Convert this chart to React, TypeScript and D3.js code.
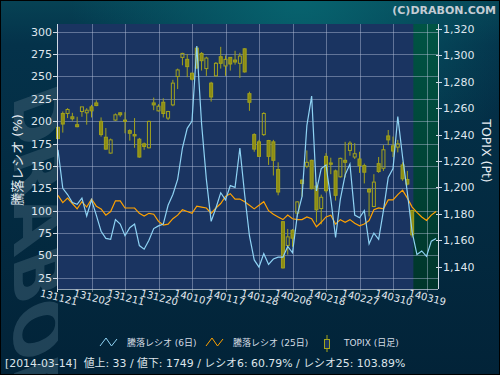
import React from 'react';
import * as d3 from 'd3';

// x-axis labels, one every 7 trading days
const dateLabels = ['131121', '131202', '131211', '131220', '140107', '140117', '140128', '140206', '140218', '140227', '140310', '140319'];

// 騰落レシオ (6日)
const ratio6 = [
  168, 125, 118, 109, 107, 114, 94, 112, 95, 77,
  69, 68, 90, 85, 72, 81, 85, 61, 57, 67,
  80, 83, 85, 106, 118, 135, 170, 192, 200, 284,
  197, 135, 88, 103, 120, 112, 128, 126, 170, 118,
  72, 45, 37, 52, 40, 46, 48, 48, 60, 53,
  95, 116, 195, 228, 122, 147, 151, 113, 70, 113,
  140, 152, 95, 92, 100, 63, 75, 68, 100, 137,
  147, 205, 160, 120, 76, 51, 55, 49, 66, 69,
];

// 騰落レシオ (25日)
const ratio25 = [
  117, 109, 114, 108, 102, 110, 104, 113, 105, 102,
  95, 99, 111, 111, 103, 103, 103, 97, 94, 97,
  96, 88, 84, 85, 91, 95, 101, 99, 97, 105,
  104, 103, 97, 103, 108, 116, 119, 113, 113, 110,
  106, 102, 106, 110, 100, 96, 93, 90, 95, 91,
  90, 90, 93, 91, 82, 87, 93, 95, 85, 90,
  87, 90, 86, 83, 85, 89, 101, 103, 102, 112,
  112, 118, 123, 114, 104, 98, 93, 89, 95, 99,
];

// TOPIX daily candles
const opens = [
  1245.5, 1256, 1256, 1253.5, 1247.5, 1257.5, 1256.5, 1261, 1264, 1250,
  1238, 1226, 1251, 1256.5, 1251, 1243, 1240, 1236.5, 1233, 1230,
  1264, 1258, 1264.5, 1252.5, 1262.5, 1284, 1298.5, 1297, 1286.5, 1305.5,
  1301.5, 1290, 1279, 1284.5, 1299, 1292, 1298.5, 1296.5, 1294, 1305,
  1271, 1240, 1234.5, 1240, 1235.5, 1234.5, 1213.5, 1174, 1156, 1167.5,
  1180.5, 1205.5, 1216, 1220.5, 1201, 1184, 1223.5, 1218.5, 1212.5, 1208,
  1220.5, 1228, 1223, 1221.5, 1216.5, 1198.5, 1185.5, 1218, 1214.5, 1239,
  1231.5, 1230.5, 1217, 1206, 1182.5,
];
const closes = [
  1237, 1248, 1259, 1252, 1246, 1261, 1258.5, 1258, 1262, 1240,
  1229, 1236, 1255, 1255, 1250, 1241, 1239, 1223, 1231, 1250,
  1262.5, 1261.5, 1256, 1257.5, 1279, 1289, 1301.5, 1291.5, 1282, 1290.5,
  1296, 1298, 1268.5, 1294, 1294, 1297, 1293.5, 1295, 1299.5, 1287.5,
  1264.5, 1229, 1223.5, 1256, 1223.5, 1220.5, 1196.5, 1139, 1162.5, 1161.5,
  1189, 1203, 1219, 1199, 1183, 1192.5, 1197.5, 1217.5, 1194, 1222,
  1219, 1233.5, 1225.5, 1216.5, 1211.5, 1196.5, 1204, 1212, 1228.5, 1236,
  1227.5, 1233, 1206.5, 1202.5, 1164,
];
const highs = [
  1246, 1257.5, 1260, 1256.5, 1253.5, 1261, 1260, 1262.5, 1266, 1253,
  1245, 1237, 1256, 1257, 1257, 1244, 1252.5, 1237.5, 1234, 1250.5,
  1268, 1263, 1267.5, 1258, 1281.5, 1290, 1302, 1301, 1287, 1306.5,
  1302.5, 1299, 1280, 1295, 1306.5, 1300, 1298.5, 1303.5, 1302, 1305.5,
  1272.5, 1241, 1236, 1257, 1236, 1236, 1219, 1174.5, 1168.5, 1168.5,
  1189.5, 1206, 1228, 1221, 1204, 1194.5, 1226, 1222.5, 1213.5, 1222.5,
  1234.5, 1235, 1233.5, 1227, 1218, 1199.5, 1210, 1223, 1232, 1243.5,
  1238.5, 1236, 1219, 1212.5, 1183,
];
const lows = [
  1236.5, 1241.5, 1252.5, 1250.5, 1245.5, 1253.5, 1247.5, 1253, 1261.5, 1238.5,
  1228.5, 1225.5, 1250.5, 1253.5, 1241, 1235.5, 1230, 1222.5, 1228.5, 1229.5,
  1258.5, 1257.5, 1253, 1251, 1261.5, 1274.5, 1292.5, 1283.5, 1281, 1290,
  1288.5, 1284.5, 1265, 1284, 1290, 1284.5, 1288.5, 1293, 1283, 1287,
  1258, 1227, 1223, 1239, 1217, 1209, 1194, 1138.5, 1149, 1155,
  1177.5, 1193, 1214.5, 1198.5, 1173.5, 1172, 1196, 1210, 1190, 1207.5,
  1207.5, 1224, 1221.5, 1211, 1203, 1178, 1185, 1211, 1212.5, 1232,
  1223, 1226.5, 1205, 1201.5, 1162,
];

const leftTicks = [25, 50, 75, 100, 125, 150, 175, 200, 225, 250, 275, 300];
const rightTicks = [1140, 1160, 1180, 1200, 1220, 1240, 1260, 1280, 1300, 1320];

const footerText = '[2014-03-14]  値上: 33 / 値下: 1749 / レシオ6: 60.79% / レシオ25: 103.89%';

const FONT = "'DejaVu Sans', 'Noto Sans CJK JP', sans-serif";
const BLUE = '#8fd3f4';
const ORANGE = '#ffa200';
const OLIVE = '#a3a31c';
const OLIVE_FILL = '#8c8c14';
const PLOT_BG = '#1a3461';

export default function App() {
  const left = 58, right = 438, top = 24, bottom = 289;

  const x = d3.scaleLinear().domain([0, 79.4]).range([left, right]);
  const yL = d3.scaleLinear().domain([12.5, 308.5]).range([bottom, top]);
  const yR = d3.scaleLinear().domain([1123, 1323.8]).range([bottom, top]);

  const line6 = d3.line<number>().x((_, i) => x(i)).y(d => yL(d));
  const line25 = d3.line<number>().x((_, i) => x(i)).y(d => yL(d));

  const futureStart = x(opens.length - 0.75);

  return (
    <>
      <style>{'body{margin:0}'}</style>
      <svg width={500} height={375} style={{ display: 'block' }} fontFamily={FONT}>
        <defs>
          <linearGradient id="bg" x1="0" y1="0" x2="0" y2="1">
            <stop offset="0" stopColor="#064254" />
            <stop offset="0.12" stopColor="#04324a" />
            <stop offset="1" stopColor="#022338" />
          </linearGradient>
          <radialGradient id="glow" gradientUnits="userSpaceOnUse" cx="300" cy="-10" r="230">
            <stop offset="0" stopColor="#07646f" stopOpacity="1" />
            <stop offset="1" stopColor="#07646f" stopOpacity="0" />
          </radialGradient>
          <linearGradient id="future" x1="0" y1="0" x2="0" y2="1">
            <stop offset="0" stopColor="#005444" />
            <stop offset="1" stopColor="#00362b" />
          </linearGradient>
          <clipPath id="plotClip">
            <rect x={left} y={top} width={right - left} height={bottom - top} />
          </clipPath>
          <clipPath id="wmClip">
            <rect x={0} y={80} width={left} height={300} />
          </clipPath>
        </defs>

        {/* background */}
        <rect x={0} y={0} width={500} height={375} fill="url(#bg)" />
        <rect x={0} y={0} width={500} height={120} fill="url(#glow)" />

        {/* watermark, mostly hidden behind the plot */}
        <g clipPath="url(#wmClip)">
          <text
            transform="translate(14,96) rotate(90) skewX(20)"
            fontSize={68}
            fontWeight="bold"
            fill="#36586c"
            fillOpacity={0.6}
            fontFamily="'DejaVu Sans', sans-serif"
          >
            DRABON
          </text>
        </g>

        {/* plot area */}
        <rect x={left} y={top} width={right - left} height={bottom - top} fill={PLOT_BG} />
        <rect x={futureStart} y={top} width={right - futureStart} height={bottom - top} fill="url(#future)" />

        {/* grid */}
        <g stroke="#b8c4dc" strokeOpacity={0.45} strokeWidth={1}>
          {leftTicks.map(t => (
            <line key={'h' + t} x1={left} x2={right} y1={Math.round(yL(t)) + 0.5} y2={Math.round(yL(t)) + 0.5} />
          ))}
          {dateLabels.map((_, k) =>
            k === 0 ? null : (
              <line key={'v' + k} x1={Math.round(x(k * 7)) + 0.5} x2={Math.round(x(k * 7)) + 0.5} y1={top} y2={bottom + 3} />
            )
          )}
        </g>

        {/* candles */}
        <g>
          {opens.map((o, i) => {
            const c = closes[i];
            const cx = x(i);
            const up = c > o;
            const yTop = yR(Math.max(o, c));
            const yBot = yR(Math.min(o, c));
            const h = Math.max(1, yBot - yTop);
            return (
              <g key={'c' + i}>
                <line x1={cx} x2={cx} y1={yR(highs[i])} y2={yTop} stroke={OLIVE} strokeWidth={1} />
                <line x1={cx} x2={cx} y1={yTop + h} y2={yR(lows[i])} stroke={OLIVE} strokeWidth={1} />
                <rect
                  x={cx - 1.5}
                  y={yTop}
                  width={3}
                  height={h}
                  fill={up ? 'none' : OLIVE_FILL}
                  stroke={OLIVE}
                  strokeWidth={1}
                />
              </g>
            );
          })}
        </g>

        {/* ratio lines */}
        <g clipPath="url(#plotClip)" fill="none">
          <path d={line25(ratio25) || ''} stroke={ORANGE} strokeWidth={1.2} />
          <path d={line6(ratio6) || ''} stroke={BLUE} strokeWidth={1.2} />
        </g>

        {/* axes */}
        <g stroke="#d0d8e4" strokeWidth={1}>
          <line x1={left - 0.5} x2={left - 0.5} y1={top} y2={bottom + 3} />
          <line x1={right + 0.5} x2={right + 0.5} y1={top} y2={bottom} />
          <line x1={left} x2={right} y1={bottom + 0.5} y2={bottom + 0.5} strokeOpacity={0.7} />
          {leftTicks.map(t => (
            <line key={'lt' + t} x1={left - 5} x2={left} y1={Math.round(yL(t)) + 0.5} y2={Math.round(yL(t)) + 0.5} />
          ))}
          {rightTicks.map(t => (
            <line key={'rt' + t} x1={right - 2} x2={right + 4} y1={Math.round(yR(t)) + 0.5} y2={Math.round(yR(t)) + 0.5} />
          ))}
        </g>

        {/* left tick labels */}
        <g fill="#dfe6ee" fontSize={11} textAnchor="end">
          {leftTicks.map(t => (
            <text key={'ll' + t} x={left - 6} y={yL(t) + 4}>{t}</text>
          ))}
        </g>

        {/* right tick labels */}
        <g fill="#dfe6ee" fontSize={11}>
          {rightTicks.map(t => (
            <text key={'rl' + t} x={right + 5} y={yR(t) + 4}>{d3.format(',')(t)}</text>
          ))}
        </g>

        {/* x labels */}
        <g fill="#e4eaf0" fontSize={10} textAnchor="middle">
          {dateLabels.map((lab, k) => {
            const lx = x(k * 7) + 1;
            const ly = 301;
            return (
              <text key={'xl' + k} x={lx} y={ly} transform={`rotate(14,${lx},${ly - 4})`}>{lab}</text>
            );
          })}
        </g>

        {/* axis titles */}
        <text transform="translate(21.5,160) rotate(-90)" textAnchor="middle" fontSize={13} fill="#e6ecf2">
          騰落レシオ (%)
        </text>
        <text transform="translate(482,151) rotate(90)" textAnchor="middle" fontSize={12.5} fill="#e6ecf2">
          TOPIX (Pt)
        </text>

        {/* copyright */}
        <text x={496} y={14} textAnchor="end" fontSize={11} fontWeight="bold" fill="#c4ccd4">
          (C)DRABON.COM
        </text>

        {/* legend */}
        <g fontSize={9} fill="#d4dce4">
          <polyline points="100,346 106,338 111.5,346 117,339" fill="none" stroke={BLUE} strokeWidth={1} />
          <text x={127} y={346}>騰落レシオ (6日)</text>
          <polyline points="206,346 212,338 217.5,346 223,339" fill="none" stroke={ORANGE} strokeWidth={1} />
          <text x={233} y={346}>騰落レシオ (25日)</text>
          <line x1={327} x2={327} y1={335} y2={352} stroke={OLIVE} />
          <rect x={324.5} y={339.5} width={5} height={9} fill={PLOT_BG} stroke={OLIVE} />
          <text x={344} y={346}>TOPIX (日足)</text>
        </g>

        {/* footer */}
        <text x={5} y={367} fontSize={10.9} fill="#dde4ea" style={{ whiteSpace: 'pre' }}>
          {footerText}
        </text>

        {/* frame */}
        <rect x={0.5} y={0.5} width={499} height={374} fill="none" stroke="#000" />
      </svg>
    </>
  );
}
